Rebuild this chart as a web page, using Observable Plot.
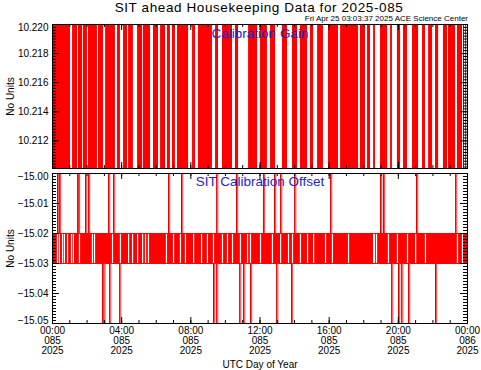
<!DOCTYPE html>
<html><head><meta charset="utf-8">
<script src="https://cdn.jsdelivr.net/npm/d3@7"></script>
<script src="https://cdn.jsdelivr.net/npm/@observablehq/plot@0.6"></script>
<style>
body{margin:0;background:#fff;}
#wrap{position:relative;width:481px;height:370px;font-family:"Liberation Sans",Arial,sans-serif;overflow:hidden;}
.t{position:absolute;white-space:nowrap;color:#000;z-index:2;}
#p1,#p2{position:absolute;left:0;}
#p1{top:0;} #p2{top:170px;}
</style></head><body>
<div id="wrap">
<div id="p1"></div><div id="p2"></div>
<div class="t" style="left:59px;width:400px;text-align:center;top:0px;font-size:13.5px;letter-spacing:0.6px;">SIT ahead Housekeeping Data for 2025-085</div>
<div class="t" style="right:13px;top:14px;font-size:8px;">Fri Apr 25 03:03:37 2025 ACE Science Center</div>
</div>
<script>
// ---- data (hours of UTC day 2025-085) ----
const dayStart = 0, dayEnd = 24;
const xTicks = [0, 4, 8, 12, 16, 20, 24];
const xTickLabels = ["00:00\n085\n2025","04:00\n085\n2025","08:00\n085\n2025","12:00\n085\n2025","16:00\n085\n2025","20:00\n085\n2025","00:00\n086\n2025"];
const gainTicks = [10.212, 10.214, 10.216, 10.218, 10.220];
const offsetTicks = [-15.05, -15.04, -15.03, -15.02, -15.01, -15.00];

// Calibration Gain: toggles between 10.220 and an off-scale low value
const gainHigh = 10.220, gainLow = 10.200;
const gainBands = [[0.00,1.04],[1.16,1.45],[1.50,1.74],[1.79,2.02],[2.08,2.60],[2.66,2.95],[3.07,3.64],[3.76,3.93],[4.11,4.34],[4.40,4.68],[4.92,5.21],[5.26,5.67],[5.84,6.13],[6.25,6.54],[6.65,6.82],[6.94,7.11],[7.23,7.87],[8.10,8.27],[8.44,9.25],[9.43,9.60],[9.83,10.41],[10.58,10.76],[11.34,11.86],[12.03,12.43],[12.61,12.90],[13.30,13.59],[13.88,14.17],[14.34,14.75],[14.92,15.10],[15.33,15.67],[15.96,16.54],[16.66,17.70],[17.81,18.10],[18.22,18.39],[18.57,18.68],[18.97,19.38],[19.55,19.66],[19.95,20.13],[20.30,20.53],[20.82,21.17],[21.40,21.57],[21.75,21.98],[22.15,22.33],[22.61,22.85],[22.90,23.31],[23.42,23.71]];
const gainSingles = [23.77, 23.89];

// SIT Calibration Offset: toggles between -15.02 and -15.03, occasional spikes
const offsetHigh = -15.02, offsetLow = -15.03, offsetTop = -15.00, offsetBottom = -15.05;
const offsetGaps = [0.29,0.40,0.58,0.69,0.87,1.10,1.21,1.56,2.31,2.43,3.47,3.93,4.40,4.63,4.92,5.21,5.38,5.55,6.59,7.00,7.40,7.69,8.16,8.62,8.96,9.31,9.83,10.12,10.41,10.87,11.28,11.45,12.03,12.72,13.19,13.65,13.88,14.34,14.75,15.10,15.79,16.19,17.12,18.57,18.62,18.74,19.43,19.95,20.53,21.00,21.57,23.42,23.71];
const offsetUpSpikes = [0.29,0.40,1.45,1.50,1.91,2.08,3.24,3.53,6.71,7.46,9.49,10.64,12.20,12.84,13.19,14.00,16.08,18.97,19.14,21.05,23.31];
const offsetDownSpikes = [2.89,2.97,3.30,3.88,9.31,9.49,10.82,11.05,11.45,12.96,13.82,19.61,20.01,20.19,20.59,22.15];

// ---- drawing ----
const W = 481, ML = 52, MR = 14, PW = W - ML - MR;
const font = {fontFamily:'"Liberation Sans", Arial, sans-serif', fontSize:"10px", background:"transparent", overflow:"visible", color:"#000"};
const hours = d3.range(dayStart, dayEnd + 1);
const blue = "#2424c8";

function frameTicks(yMajor, yMinor, PH) {
  return [
    Plot.tickY(yMinor, {y: d => d, insetRight: PW - 4, stroke: "black"}),
    Plot.tickY(yMinor, {y: d => d, insetLeft: PW - 4, stroke: "black"}),
    Plot.tickY(yMajor, {y: d => d, insetRight: PW - 7, stroke: "black"}),
    Plot.tickY(yMajor, {y: d => d, insetLeft: PW - 7, stroke: "black"}),
    Plot.tickX(hours, {x: d => d, insetBottom: PH - 3, stroke: "black"}),
    Plot.tickX(hours, {x: d => d, insetTop: PH - 3, stroke: "black"}),
    Plot.tickX(xTicks, {x: d => d, insetBottom: PH - 6, stroke: "black"}),
    Plot.tickX(xTicks, {x: d => d, insetTop: PH - 6, stroke: "black"}),
    Plot.frame({stroke: "black"})
  ];
}
// y tick labels; the end labels sit slightly inside the frame as in the reference
function yLabels(ticks, fmt) {
  const lo = d3.min(ticks), hi = d3.max(ticks);
  const base = {y: d => d, frameAnchor: "left", textAnchor: "end", dx: -4, text: d => d3.format(fmt)(d), fontSize: 10};
  return [
    Plot.text(ticks.filter(d => d !== lo && d !== hi), base),
    Plot.text([hi], {...base, dy: 3}),
    Plot.text([lo], {...base, dy: -3})
  ];
}

const PH1 = 144;
const gainChart = Plot.plot({
  width: W, height: 170, marginTop: 24, marginBottom: 2, marginLeft: ML, marginRight: MR,
  style: font,
  x: {domain: [dayStart, dayEnd], axis: null},
  y: {domain: [10.2101, 10.2200], axis: null},
  marks: [
    Plot.rect(gainBands, {x1: d => d[0], x2: d => d[1], y1: () => gainLow, y2: () => gainHigh, fill: "#ff0000", clip: true}),
    Plot.ruleX(gainSingles, {x: d => d, y1: () => gainLow, y2: () => gainHigh, stroke: "#ff0000", clip: true}),
    Plot.ruleY([gainHigh], {stroke: "#ff0000"}),
    ...frameTicks(gainTicks, d3.ticks(10.2101, 10.2200, 50), PH1),
    Plot.text(gainTicks.filter(d => d !== gainHigh), {y: d => d, frameAnchor: "left", textAnchor: "end", dx: -4, text: d => d3.format(".3f")(d), fontSize: 10}),
    Plot.text([gainHigh], {y: d => d, frameAnchor: "left", textAnchor: "end", dx: -4, dy: 3, text: d => d3.format(".3f")(d), fontSize: 10}),
    Plot.text(["No Units"], {frameAnchor: "left", textAnchor: "middle", lineAnchor: "middle", dx: -42, rotate: -90, fontSize: 10}),
    Plot.text(["Calibration Gain"], {frameAnchor: "top", lineAnchor: "middle", dy: 9, fill: blue, fontSize: 13.5})
  ]
});
document.getElementById("p1").append(gainChart);

const PH2 = 150;
const offsetChart = Plot.plot({
  width: W, height: 200, marginTop: 3, marginBottom: 47, marginLeft: ML, marginRight: MR,
  style: font,
  x: {domain: [dayStart, dayEnd], axis: null},
  y: {domain: [offsetBottom, offsetTop], axis: null},
  marks: [
    Plot.rect([[dayStart, dayEnd]], {x1: d => d[0], x2: d => d[1], y1: () => offsetLow, y2: () => offsetHigh, fill: "#ff0000"}),
    Plot.ruleX(offsetGaps, {x: d => d, y1: () => offsetLow, y2: () => offsetHigh, insetTop: 1, insetBottom: 1, stroke: "white", strokeWidth: 1.2}),
    Plot.ruleY([offsetHigh, offsetLow], {stroke: "#ff0000"}),
    Plot.ruleX(offsetUpSpikes, {x: d => d, y1: () => offsetHigh, y2: () => offsetTop, stroke: "#e00000"}),
    Plot.ruleX(offsetUpSpikes, {x: d => d, y1: () => offsetHigh, y2: () => offsetTop, stroke: "#ff3030", dx: 1.2}),
    Plot.ruleX(offsetDownSpikes, {x: d => d, y1: () => offsetLow, y2: () => offsetBottom, stroke: "#e00000"}),
    Plot.ruleX(offsetDownSpikes, {x: d => d, y1: () => offsetLow, y2: () => offsetBottom, stroke: "#ff3030", dx: 1.2}),
    ...frameTicks(offsetTicks, d3.ticks(offsetBottom, offsetTop, 50), PH2),
    ...yLabels(offsetTicks, ".2f"),
    Plot.text(xTicks, {x: d => d, frameAnchor: "bottom", lineAnchor: "top", dy: 4, lineHeight: 0.97, text: (d, i) => xTickLabels[i], fontSize: 10}),
    Plot.text(["UTC Day of Year"], {frameAnchor: "bottom", lineAnchor: "middle", dy: 41, fontSize: 10}),
    Plot.text(["No Units"], {frameAnchor: "left", textAnchor: "middle", lineAnchor: "middle", dx: -42, rotate: -90, fontSize: 10}),
    Plot.text(["SIT Calibration Offset"], {frameAnchor: "top", lineAnchor: "middle", dy: 8.5, fill: blue, fontSize: 13.5})
  ]
});
document.getElementById("p2").append(offsetChart);
</script>
</body></html>
